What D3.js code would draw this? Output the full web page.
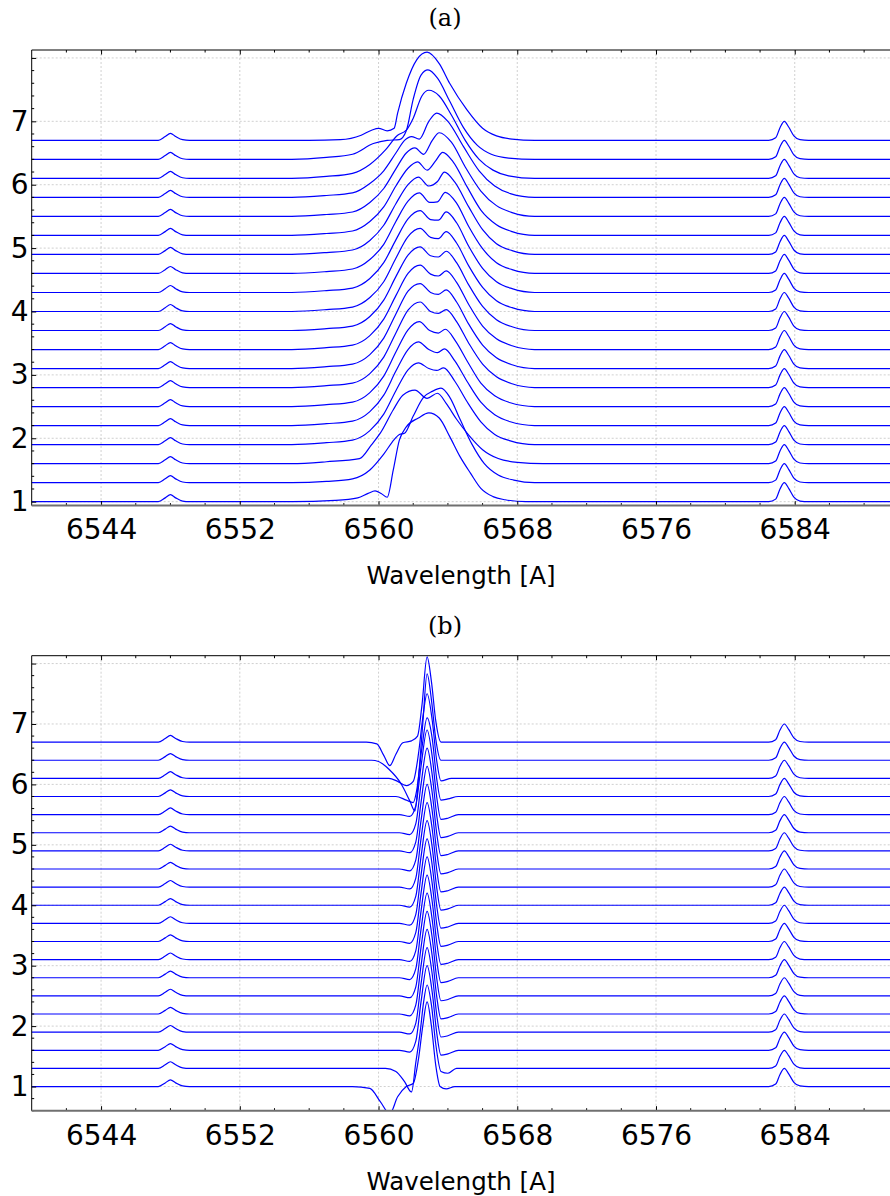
<!DOCTYPE html>
<html><head><meta charset="utf-8">
<script src="https://cdn.jsdelivr.net/npm/d3@7"></script>
<style>body{margin:0;background:#fff} svg{display:block}</style>
</head><body>
<svg id="chart" width="890" height="1196"></svg>
<script>
// ---------- data ----------
const waveTicks = [6544, 6552, 6560, 6568, 6576, 6584];
const fluxTicks = [1, 2, 3, 4, 5, 6, 7];
const offsets = [1.0,1.3,1.6,1.9,2.2,2.5,2.8,3.1,3.4,3.7,4.0,4.3,4.6,4.9,5.2,5.5,5.8,6.1,6.4,6.7];
const panelTitles = ["(a)", "(b)"];
const xLabel = "Wavelength [A]";

// [NII] 6548 and 6583 lines (wavelength, flux above continuum)
const nii6548A = [[6547.3,0],[6547.7,0.06],[6548.0,0.11],[6548.3,0.06],[6548.7,0.01],[6549.1,0]];
const nii6584A = [[6582.5,0],[6582.9,0.04],[6583.15,0.2],[6583.4,0.3],[6583.65,0.21],[6583.95,0.07],[6584.3,0.01],[6584.8,0]];
const nii6548B = [[6547.3,0],[6547.7,0.06],[6548.0,0.11],[6548.3,0.06],[6548.7,0.01],[6549.1,0]];
const nii6584B = [[6582.5,0],[6582.9,0.04],[6583.15,0.2],[6583.4,0.3],[6583.65,0.21],[6583.95,0.07],[6584.3,0.01],[6584.8,0]];

// H-alpha profiles, panel (a), bottom trace first
const halphaA = [
 [[6555,0],[6557.5,0.02],[6558.8,0.06],[6559.4,0.13],[6559.8,0.17],[6560.15,0.13],[6560.5,0.07],[6560.85,0.5],[6561.2,0.97],[6561.6,1.18],[6562.3,1.32],[6562.9,1.40],[6563.5,1.32],[6564.1,1.03],[6564.7,0.71],[6565.3,0.45],[6565.9,0.21],[6566.6,0.08],[6567.3,0.03],[6568.5,0]],
 [[6555,0],[6557,0.02],[6558.5,0.06],[6559.5,0.2],[6560.3,0.45],[6560.9,0.68],[6561.2,0.76],[6561.5,0.78],[6562.0,1.05],[6562.6,1.35],[6563.1,1.44],[6563.6,1.49],[6564.1,1.35],[6564.7,1.0],[6565.4,0.6],[6566.1,0.3],[6566.9,0.12],[6567.8,0.04],[6569,0]],
 [[6555,0],[6557,0.03],[6558.9,0.08],[6559.6,0.3],[6560.1,0.48],[6560.85,0.85],[6561.4,1.08],[6562.1,1.16],[6562.8,1.03],[6563.4,1.11],[6563.9,0.95],[6564.5,0.7],[6565.2,0.45],[6566,0.22],[6566.9,0.08],[6568,0.02],[6569.5,0]],
 [[6555,0],[6557,0.03],[6558.5,0.07],[6559.5,0.22],[6560.3,0.48],[6561.0,0.85],[6561.7,1.18],[6562.3,1.29],[6562.9,1.2],[6563.35,1.17],[6563.75,1.21],[6564.4,1.0],[6565.1,0.68],[6565.9,0.36],[6566.7,0.16],[6567.6,0.06],[6569,0]],
 [[6555,0],[6557,0.03],[6558.5,0.07],[6559.5,0.22],[6560.3,0.48],[6561.0,0.86],[6561.7,1.2],[6562.3,1.32],[6562.9,1.2],[6563.4,1.15],[6563.8,1.21],[6564.4,1.02],[6565.1,0.7],[6565.9,0.37],[6566.7,0.17],[6567.6,0.06],[6569,0]],
 [[6555,0],[6557,0.03],[6558.5,0.07],[6559.5,0.22],[6560.3,0.48],[6561.0,0.86],[6561.7,1.21],[6562.35,1.34],[6562.95,1.2],[6563.45,1.16],[6563.85,1.22],[6564.45,1.03],[6565.15,0.7],[6565.9,0.37],[6566.7,0.17],[6567.6,0.06],[6569,0]],
 [[6555,0],[6557,0.03],[6558.5,0.07],[6559.5,0.22],[6560.3,0.48],[6561.0,0.86],[6561.7,1.22],[6562.4,1.35],[6563.0,1.2],[6563.45,1.17],[6563.9,1.23],[6564.5,1.04],[6565.2,0.7],[6566.0,0.37],[6566.8,0.17],[6567.7,0.06],[6569,0]],
 [[6555,0],[6557,0.03],[6558.5,0.07],[6559.5,0.22],[6560.3,0.48],[6561.0,0.86],[6561.7,1.22],[6562.4,1.34],[6563.0,1.2],[6563.45,1.17],[6563.9,1.24],[6564.5,1.05],[6565.2,0.7],[6566.0,0.37],[6566.8,0.17],[6567.7,0.06],[6569,0]],
 [[6555,0],[6557,0.03],[6558.5,0.07],[6559.5,0.22],[6560.3,0.48],[6561.0,0.85],[6561.7,1.2],[6562.4,1.33],[6563.0,1.19],[6563.45,1.16],[6563.9,1.24],[6564.5,1.06],[6565.2,0.71],[6566.0,0.37],[6566.8,0.17],[6567.7,0.06],[6569,0]],
 [[6555,0],[6557,0.03],[6558.5,0.07],[6559.5,0.22],[6560.3,0.48],[6561.0,0.85],[6561.7,1.19],[6562.4,1.32],[6563.0,1.18],[6563.45,1.16],[6563.9,1.25],[6564.5,1.07],[6565.2,0.72],[6566.0,0.38],[6566.8,0.17],[6567.7,0.06],[6569,0]],
 [[6555,0],[6557,0.03],[6558.5,0.07],[6559.5,0.22],[6560.3,0.47],[6561.0,0.84],[6561.7,1.18],[6562.4,1.31],[6563.0,1.17],[6563.45,1.15],[6563.9,1.26],[6564.5,1.08],[6565.2,0.72],[6566.0,0.38],[6566.8,0.17],[6567.7,0.06],[6569,0]],
 [[6555,0],[6557,0.03],[6558.5,0.07],[6559.5,0.22],[6560.3,0.47],[6561.0,0.83],[6561.7,1.16],[6562.4,1.29],[6563.0,1.15],[6563.45,1.14],[6563.9,1.27],[6564.5,1.1],[6565.2,0.73],[6566.0,0.38],[6566.8,0.17],[6567.7,0.06],[6569,0]],
 [[6555,0],[6557,0.03],[6558.5,0.07],[6559.5,0.22],[6560.3,0.46],[6561.0,0.82],[6561.7,1.14],[6562.35,1.27],[6562.95,1.12],[6563.4,1.13],[6563.85,1.28],[6564.5,1.11],[6565.2,0.74],[6566.0,0.39],[6566.8,0.17],[6567.7,0.06],[6569,0]],
 [[6555,0],[6557,0.03],[6558.5,0.07],[6559.5,0.22],[6560.3,0.46],[6561.0,0.8],[6561.7,1.1],[6562.3,1.22],[6562.9,1.08],[6563.4,1.15],[6563.8,1.3],[6564.4,1.14],[6565.2,0.75],[6566.0,0.39],[6566.8,0.17],[6567.7,0.06],[6569,0]],
 [[6555,0],[6557,0.03],[6558.5,0.07],[6559.5,0.22],[6560.3,0.45],[6561.0,0.78],[6561.7,1.06],[6562.25,1.16],[6562.8,1.03],[6563.3,1.18],[6563.7,1.31],[6564.3,1.16],[6565.1,0.77],[6565.9,0.4],[6566.8,0.17],[6567.7,0.06],[6569,0]],
 [[6555,0],[6557,0.03],[6558.5,0.07],[6559.5,0.22],[6560.3,0.44],[6561.0,0.75],[6561.6,1.0],[6562.1,1.08],[6562.6,0.98],[6563.1,1.2],[6563.5,1.32],[6564.2,1.17],[6565.0,0.78],[6565.9,0.4],[6566.8,0.17],[6567.7,0.06],[6569,0]],
 [[6555,0],[6557,0.03],[6558.5,0.07],[6559.5,0.22],[6560.3,0.42],[6561.0,0.7],[6561.5,0.9],[6561.9,0.96],[6562.35,0.92],[6562.9,1.2],[6563.35,1.33],[6564.0,1.2],[6564.9,0.8],[6565.8,0.42],[6566.7,0.18],[6567.6,0.06],[6569,0]],
 [[6555,0],[6557,0.03],[6558.5,0.08],[6559.5,0.22],[6560.4,0.45],[6561.1,0.68],[6561.6,0.76],[6562.0,0.95],[6562.5,1.3],[6562.9,1.39],[6563.5,1.3],[6564.2,1.0],[6565.0,0.6],[6565.8,0.3],[6566.6,0.13],[6567.5,0.04],[6569,0]],
 [[6555,0],[6557,0.03],[6558.5,0.08],[6559.7,0.25],[6560.5,0.3],[6561.2,0.31],[6561.6,0.45],[6562.0,0.95],[6562.45,1.33],[6562.85,1.41],[6563.4,1.28],[6564.1,0.92],[6564.9,0.5],[6565.7,0.22],[6566.5,0.08],[6567.5,0.02],[6569,0]],
 [[6556,0],[6557.8,0.01],[6559.0,0.08],[6559.6,0.16],[6560.0,0.19],[6560.5,0.15],[6560.9,0.19],[6561.1,0.43],[6561.6,0.9],[6562.2,1.27],[6562.8,1.39],[6563.5,1.21],[6564.1,0.9],[6565.1,0.48],[6566.0,0.19],[6566.8,0.07],[6567.7,0.02],[6569,0]]
];

// H-alpha profiles, panel (b), bottom trace first
const halphaB = [
 [[6558.5,0],[6559.5,-0.03],[6560.1,-0.25],[6560.65,-0.45],[6561.1,-0.17],[6561.6,0],[6562.0,0.05],[6562.3,0.45],[6562.55,1.0],[6562.8,1.4],[6563.05,1.0],[6563.3,0.35],[6563.55,0.0],[6563.9,-0.04],[6564.4,0]],
 [[6560.4,0],[6561.0,-0.05],[6561.5,-0.22],[6561.9,-0.39],[6562.15,0.1],[6562.4,0.6],[6562.6,1.1],[6562.8,1.38],[6563.05,1.05],[6563.3,0.4],[6563.6,-0.05],[6564.0,-0.08],[6564.5,0]],
 [[6561.2,0],[6561.8,-0.03],[6562.15,0.15],[6562.45,0.8],[6562.8,1.4],[6563.1,0.95],[6563.35,0.3],[6563.6,-0.08],[6564.0,-0.06],[6564.6,0]],
 [[6561.2,0],[6561.8,-0.03],[6562.15,0.15],[6562.45,0.8],[6562.8,1.4],[6563.1,0.95],[6563.35,0.3],[6563.6,-0.08],[6564.0,-0.06],[6564.6,0]],
 [[6561.2,0],[6561.8,-0.03],[6562.15,0.15],[6562.45,0.8],[6562.8,1.4],[6563.1,0.95],[6563.35,0.3],[6563.6,-0.08],[6564.0,-0.06],[6564.6,0]],
 [[6561.2,0],[6561.8,-0.03],[6562.15,0.15],[6562.45,0.8],[6562.8,1.4],[6563.1,0.95],[6563.35,0.3],[6563.6,-0.08],[6564.0,-0.06],[6564.6,0]],
 [[6561.2,0],[6561.8,-0.03],[6562.15,0.15],[6562.45,0.8],[6562.8,1.4],[6563.1,0.95],[6563.35,0.3],[6563.6,-0.08],[6564.0,-0.06],[6564.6,0]],
 [[6561.2,0],[6561.8,-0.03],[6562.15,0.15],[6562.45,0.8],[6562.8,1.4],[6563.1,0.95],[6563.35,0.3],[6563.6,-0.08],[6564.0,-0.06],[6564.6,0]],
 [[6561.2,0],[6561.8,-0.03],[6562.15,0.15],[6562.45,0.8],[6562.8,1.4],[6563.1,0.95],[6563.35,0.3],[6563.6,-0.08],[6564.0,-0.06],[6564.6,0]],
 [[6561.2,0],[6561.8,-0.03],[6562.15,0.15],[6562.45,0.8],[6562.8,1.4],[6563.1,0.95],[6563.35,0.3],[6563.6,-0.08],[6564.0,-0.06],[6564.6,0]],
 [[6561.2,0],[6561.8,-0.03],[6562.15,0.15],[6562.45,0.8],[6562.8,1.4],[6563.1,0.95],[6563.35,0.3],[6563.6,-0.08],[6564.0,-0.06],[6564.6,0]],
 [[6561.2,0],[6561.8,-0.03],[6562.15,0.15],[6562.45,0.8],[6562.8,1.4],[6563.1,0.95],[6563.35,0.3],[6563.6,-0.08],[6564.0,-0.06],[6564.6,0]],
 [[6561.2,0],[6561.8,-0.03],[6562.15,0.15],[6562.45,0.8],[6562.8,1.4],[6563.1,0.95],[6563.35,0.3],[6563.6,-0.08],[6564.0,-0.06],[6564.6,0]],
 [[6561.2,0],[6561.8,-0.03],[6562.15,0.15],[6562.45,0.8],[6562.8,1.4],[6563.1,0.95],[6563.35,0.3],[6563.6,-0.08],[6564.0,-0.06],[6564.6,0]],
 [[6561.2,0],[6561.8,-0.03],[6562.15,0.15],[6562.45,0.8],[6562.8,1.4],[6563.1,0.95],[6563.35,0.3],[6563.6,-0.08],[6564.0,-0.06],[6564.6,0]],
 [[6561.2,0],[6561.8,-0.03],[6562.15,0.15],[6562.45,0.8],[6562.8,1.4],[6563.1,0.95],[6563.35,0.3],[6563.6,-0.08],[6564.0,-0.06],[6564.6,0]],
 [[6561.0,0],[6561.6,-0.06],[6562.0,-0.1],[6562.2,0.1],[6562.5,0.8],[6562.8,1.3],[6563.1,0.95],[6563.35,0.3],[6563.6,-0.06],[6564.0,-0.04],[6564.6,0]],
 [[6560.6,0],[6561.1,-0.05],[6561.6,-0.12],[6562.0,-0.05],[6562.3,0.4],[6562.55,1.0],[6562.8,1.4],[6563.1,0.95],[6563.35,0.3],[6563.6,-0.04],[6564.2,0]],
 [[6559.6,0],[6560.0,-0.02],[6560.6,-0.15],[6561.3,-0.39],[6561.8,-0.67],[6562.1,-0.84],[6562.3,-0.3],[6562.55,0.6],[6562.8,1.43],[6563.05,1.0],[6563.3,0.35],[6563.6,0.0],[6564.2,0]],
 [[6559.3,0],[6559.9,-0.03],[6560.3,-0.22],[6560.65,-0.39],[6561.0,-0.2],[6561.4,-0.01],[6561.9,0.02],[6562.25,0.1],[6562.5,0.6],[6562.8,1.41],[6563.05,1.0],[6563.3,0.35],[6563.6,0.0],[6564.2,0]]
];

// ---------- drawing ----------
const svg = d3.select("#chart");
const W = 890;
const panels = [
  {title: panelTitles[0], halpha: halphaA, n48: nii6548A, n84: nii6584A,
   top: 50, bottom: 505.6, yDom: [0.938, 8.125], titleY: 26, labelY: 584},
  {title: panelTitles[1], halpha: halphaB, n48: nii6548B, n84: nii6584B,
   top: 655.7, bottom: 1110.7, yDom: [0.6, 8.13], titleY: 634, labelY: 1190}
];
const left = 31.7;

panels.forEach((p, pi) => {
  const x = d3.scaleLinear().domain([6540, 6590]).range([left, 898.8]);
  const y = d3.scaleLinear().domain(p.yDom).range([p.bottom, p.top]);
  const g = svg.append("g");
  const clipId = "clip" + pi;
  svg.append("clipPath").attr("id", clipId).append("rect")
    .attr("x", left).attr("y", p.top).attr("width", W - left).attr("height", p.bottom - p.top);

  // grid
  const grid = g.append("g").attr("clip-path", `url(#${clipId})`);
  grid.selectAll("line.vx").data(waveTicks).join("line")
    .attr("x1", d => x(d)).attr("x2", d => x(d)).attr("y1", p.top).attr("y2", p.bottom)
    .attr("stroke", "#c4c4c4").attr("stroke-width", 0.8).attr("stroke-dasharray", "2,2");
  grid.selectAll("line.hy").data([1,2,3,4,5,6,7,8]).join("line")
    .attr("x1", left).attr("x2", W).attr("y1", d => y(d)).attr("y2", d => y(d))
    .attr("stroke", "#c4c4c4").attr("stroke-width", 0.8).attr("stroke-dasharray", "2,2");

  // traces
  const line = d3.line().x(d => x(d[0])).y(d => y(d[1])).curve(d3.curveMonotoneX);
  const traces = offsets.map((off, i) => {
    const pts = [[6539.5, 0]].concat(p.n48, [[6552, 0]], p.halpha[i], [[6576, 0]], p.n84, [[6590.5, 0]]);
    return pts.map(d => [d[0], d[1] + off]);
  });
  g.append("g").attr("clip-path", `url(#${clipId})`)
    .selectAll("path").data(traces).join("path")
    .attr("d", line).attr("fill", "none").attr("stroke", "#0000ff").attr("stroke-width", 1.2)
    .attr("stroke-linejoin", "round");

  // axes
  const axB = d3.axisBottom(x).tickValues(waveTicks).tickSize(-4.5).tickPadding(14).tickFormat(d3.format("d"));
  const axT = d3.axisTop(x).tickValues(waveTicks).tickSize(-4.5).tickFormat("");
  const axL = d3.axisLeft(y).tickValues(fluxTicks.concat([8])).tickSize(-4.5).tickPadding(6)
      .tickFormat(d => d === 8 ? "" : d);
  const minorX = d3.range(6542, 6590, 2).filter(v => !waveTicks.includes(v));
  const minorY = d3.range(0.6, 8.2, 0.2).map(v => +v.toFixed(1)).filter(v => v >= p.yDom[0] && v <= p.yDom[1] && Math.abs(v - Math.round(v)) > 0.01);

  const gB = g.append("g").attr("transform", `translate(0,${p.bottom})`).call(axB);
  const gT = g.append("g").attr("transform", `translate(0,${p.top})`).call(axT);
  const gL = g.append("g").attr("transform", `translate(${left},0)`).call(axL);
  [gB, gT, gL].forEach(a => {
    a.select(".domain").remove();
    a.selectAll(".tick line").attr("stroke", "#000").attr("stroke-width", 1);
    a.selectAll("text").attr("font-family", "DejaVu Sans, sans-serif").attr("font-size", 28).attr("fill", "#000");
  });
  gL.selectAll("text").attr("dx", "0.1em");

  // minor ticks
  g.append("g").selectAll("line").data(minorX).join("line")
    .attr("x1", d => x(d)).attr("x2", d => x(d)).attr("y1", p.bottom).attr("y2", p.bottom - 2.5)
    .attr("stroke", "#000");
  g.append("g").selectAll("line").data(minorX).join("line")
    .attr("x1", d => x(d)).attr("x2", d => x(d)).attr("y1", p.top).attr("y2", p.top + 2.5)
    .attr("stroke", "#000");
  g.append("g").selectAll("line").data(minorY).join("line")
    .attr("x1", left).attr("x2", left + 2.5).attr("y1", d => y(d)).attr("y2", d => y(d))
    .attr("stroke", "#000");

  // spines
  g.append("line").attr("x1", left).attr("x2", W).attr("y1", p.top).attr("y2", p.top)
    .attr("stroke", "#000").attr("stroke-width", 1);
  g.append("line").attr("x1", left).attr("x2", left).attr("y1", p.top).attr("y2", p.bottom)
    .attr("stroke", "#000").attr("stroke-width", 1);
  g.append("line").attr("x1", left).attr("x2", W).attr("y1", p.bottom).attr("y2", p.bottom)
    .attr("stroke", "#707070").attr("stroke-width", 2);

  // title and x label
  svg.append("text").attr("x", 445).attr("y", p.titleY).attr("text-anchor", "middle")
    .attr("font-family", "DejaVu Serif, serif").attr("font-size", 24).text(p.title);
  svg.append("text").attr("x", 461).attr("y", p.labelY).attr("text-anchor", "middle")
    .attr("font-family", "DejaVu Sans, sans-serif").attr("font-size", 24.5).text(xLabel);
});
</script>
</body></html>
